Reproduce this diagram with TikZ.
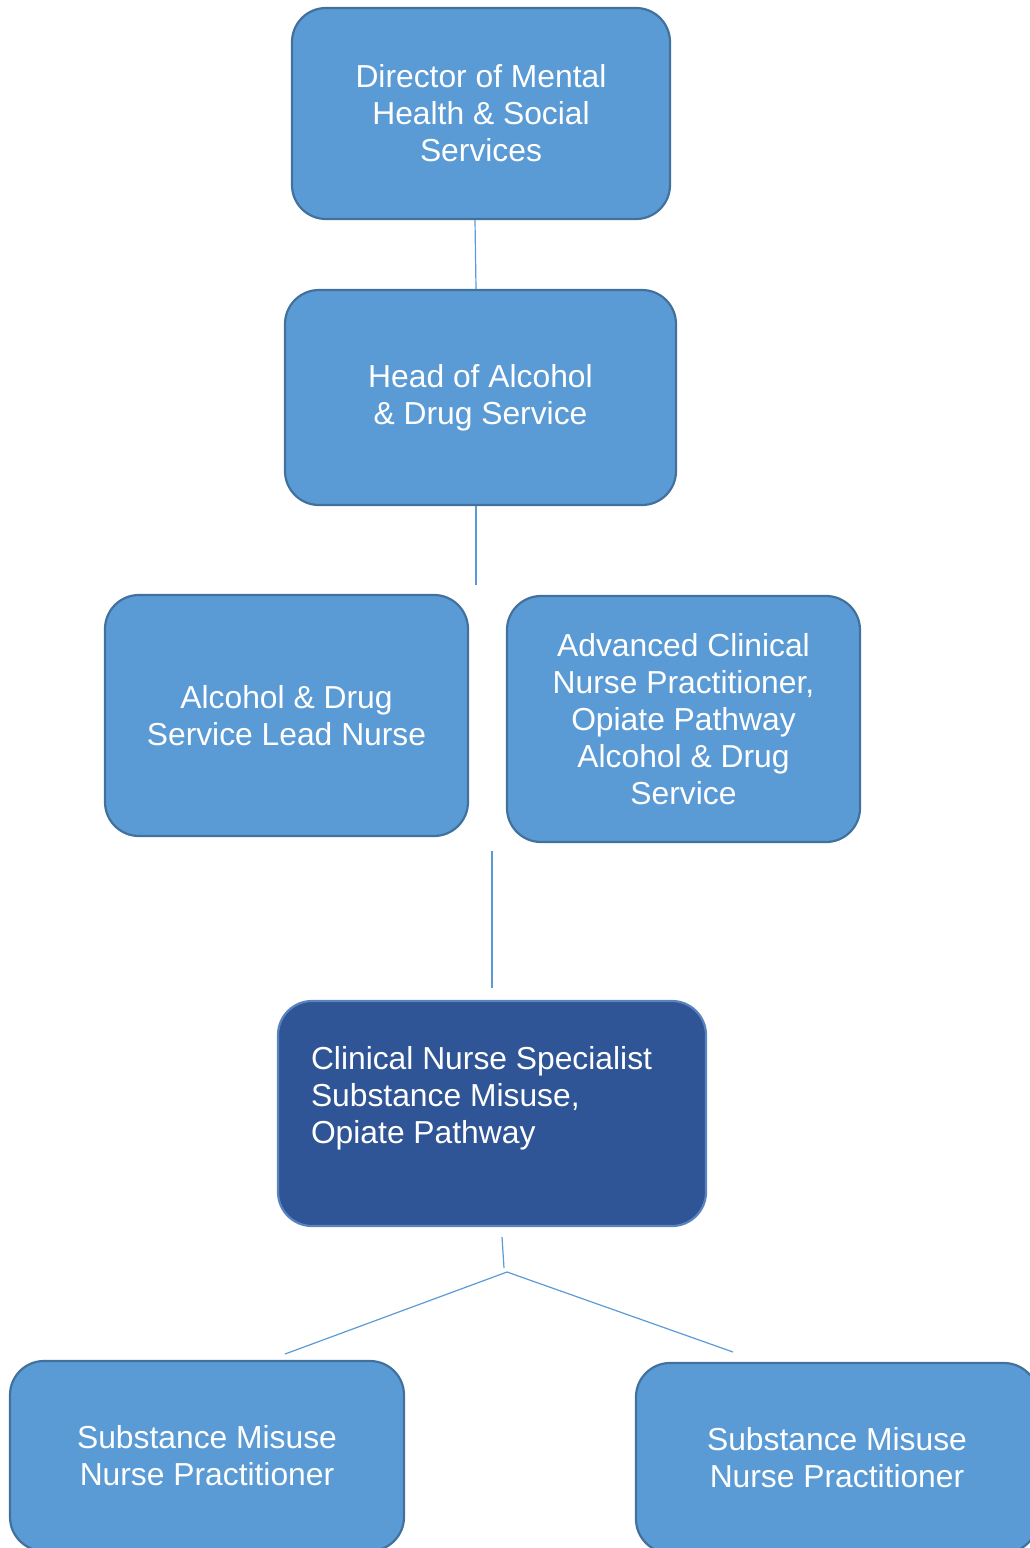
\documentclass[tikz,border=0pt]{standalone}
\usepackage{fontspec}
\setmainfont{Liberation Sans}
\usepackage{xcolor}
\usepackage{tikz}
\usetikzlibrary{positioning,calc}
\definecolor{boxfill}{HTML}{5B9BD5}
\definecolor{boxline}{HTML}{41719C}
\definecolor{darkfill}{HTML}{2F5597}
\definecolor{darkline}{HTML}{5A84BE}
\definecolor{linkcol}{HTML}{5B9BD5}

\tikzset{
  rolebox/.style={draw=boxline, fill=boxfill, line width=2.2pt, rounded corners=34pt,
    text=white, align=center, inner sep=0pt,
    font=\fontsize{31.8}{36.9}\selectfont},
  leadbox/.style={rolebox, draw=darkline, fill=darkfill, align=flush left},
  link/.style={draw=linkcol, line width=1.2pt}
}

\begin{document}
\begin{tikzpicture}[x=1pt,y=-1pt]
        \useasboundingbox (0,0) rectangle (1029,1548);

        % Top of the chart
        \node[rolebox, minimum width=378, minimum height=211] (director) at (481,113.5)
            {Director of Mental\\Health \& Social\\Services};
        \node[rolebox, minimum width=391, minimum height=215] (head) at (480.5,397.5)
            {Head of Alcohol\\\& Drug Service};

        % Second row
        \node[rolebox, minimum width=363, minimum height=241] (leadnurse) at (286.5,715.5)
            {Alcohol \& Drug\\Service Lead Nurse};
        \node[rolebox, minimum width=353, minimum height=246] (advanced) at (683.5,719)
            {Advanced Clinical\\Nurse Practitioner,\\Opiate Pathway\\Alcohol \& Drug\\Service};

        % Specialist
        \node[leadbox, minimum width=428, minimum height=225, text width=362] (cns) at (492,1113.5)
            {Clinical Nurse Specialist\\Substance Misuse,\\Opiate Pathway\\\mbox{}};

        % Bottom row
        \node[rolebox, minimum width=394, minimum height=190] (nurseleft) at (207,1456)
            {Substance Misuse\\Nurse Practitioner};
        \node[rolebox, minimum width=402, minimum height=190] (nurseright) at (837,1458)
            {Substance Misuse\\Nurse Practitioner};

        % Connectors
        \coordinate (headend) at (476,585);
        \coordinate (midtop) at (492,851);
        \coordinate (midbot) at (492,988);
        \coordinate (stubtop) at (502,1237);
        \coordinate (stubbot) at (504,1268);
        \coordinate (fork) at (507,1272);
        \coordinate (leftend) at (285,1354);
        \coordinate (rightend) at (733,1352);

        \draw[link] ([xshift=-6pt]director.south) -- ([xshift=-4.5pt]head.north);
        \draw[link] ([xshift=-4.5pt]head.south) -- (headend);
        \draw[link] (midtop) -- (midbot);
        \draw[link] (stubtop) -- (stubbot);
        \draw[link] (fork) -- (leftend);
        \draw[link] (fork) -- (rightend);
    \end{tikzpicture}
\end{document}
